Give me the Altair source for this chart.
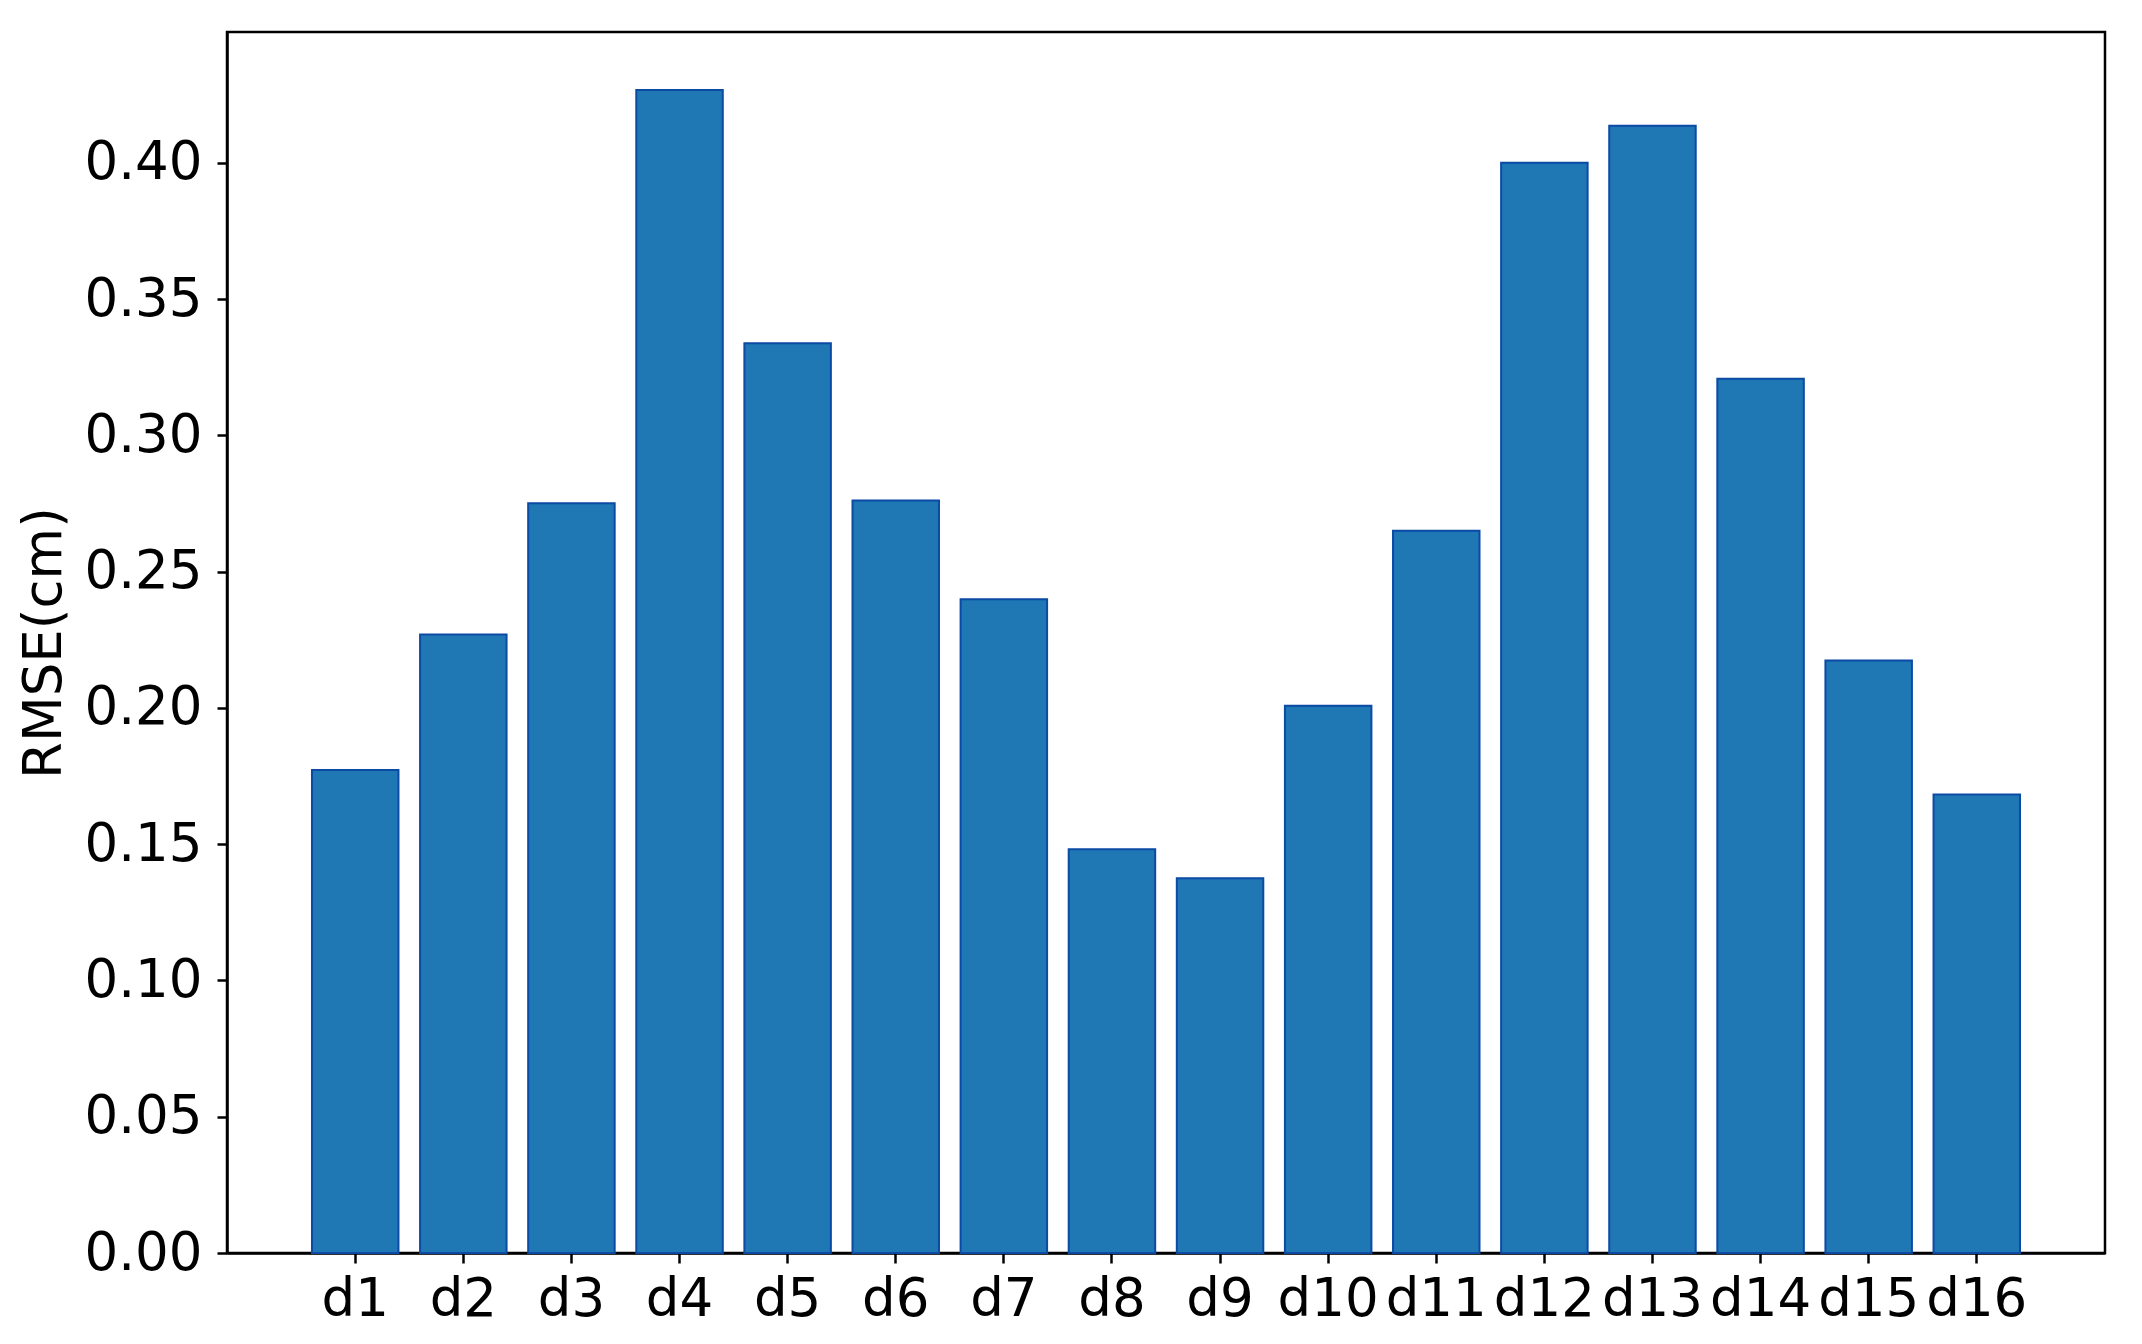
import altair as alt
import pandas as pd

categories = ["d1", "d2", "d3", "d4", "d5", "d6", "d7", "d8",
              "d9", "d10", "d11", "d12", "d13", "d14", "d15", "d16"]
rmse = [0.1772, 0.2269, 0.2751, 0.4267, 0.3338, 0.2761, 0.2399, 0.1481,
        0.1375, 0.2008, 0.2650, 0.4000, 0.4136, 0.3208, 0.2174, 0.1682]
y_ticks = [0.00, 0.05, 0.10, 0.15, 0.20, 0.25, 0.30, 0.35, 0.40]

df = pd.DataFrame({"cat": categories, "rmse": rmse})

FONT = "DejaVu Sans"

chart = alt.Chart(df).mark_bar(
    color="#1f77b4", stroke="#0b4aa5", strokeWidth=2
).encode(
    x=alt.X("cat:N", sort=categories, title=None,
            scale=alt.Scale(paddingInner=0.2, paddingOuter=0.786),
            axis=alt.Axis(labelAngle=0, labelFontSize=53, labelFont=FONT,
                          labelColor="black", labelPadding=10,
                          tickSize=10, tickWidth=2.5, tickColor="black",
                          domainColor="black", domainWidth=2.5,
                          labelOverlap=False, grid=False)),
    y=alt.Y("rmse:Q", title="RMSE(cm)",
            scale=alt.Scale(domain=[0, 0.448], nice=False, zero=True),
            axis=alt.Axis(values=y_ticks, format=".2f", labelFontSize=53,
                          labelFont=FONT, labelColor="black", labelPadding=15,
                          tickSize=10, tickWidth=2.5, tickColor="black",
                          domainColor="black", domainWidth=2.5, grid=False,
                          titleFont=FONT, titleFontSize=53,
                          titleFontWeight="normal", titleColor="black",
                          titlePadding=12))
).properties(
    width=1878, height=1221,
    autosize=alt.AutoSizeParams(type="none"),
    padding={"left": 219, "top": 24, "right": 29, "bottom": 83},
    background="white"
).configure_view(
    stroke="black", strokeWidth=2.5
)

chart.save("out.html", embed_options={"renderer": "svg", "actions": False})
